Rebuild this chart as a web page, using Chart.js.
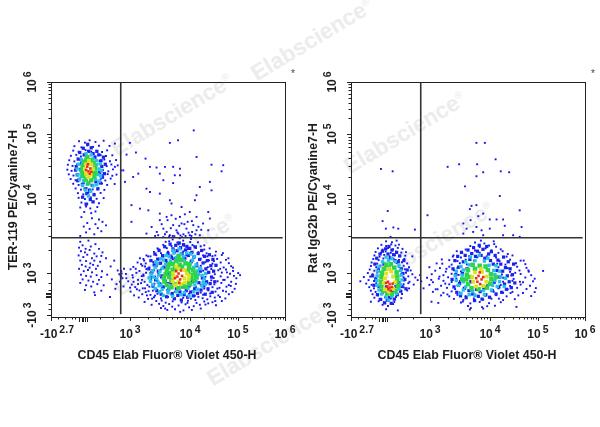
<!DOCTYPE html>
<html><head><meta charset="utf-8">
<style>
html,body{margin:0;padding:0;background:#fff;width:600px;height:427px;overflow:hidden}
canvas{position:absolute;top:0}
.wm{position:absolute;font:bold 22.5px "Liberation Sans",Arial,sans-serif;color:#ececec;white-space:nowrap;transform:translate(-50%,-50%) rotate(-31deg)}
.wm sup{font-size:10px;font-weight:normal}
</style>
<script src="https://cdn.jsdelivr.net/npm/chart.js@4"></script>
</head><body>
<div id="marks"></div>
<canvas id="cLeft" width="300" height="427" style="left:0;width:300px;height:427px"></canvas>
<canvas id="cRight" width="300" height="427" style="left:300px;width:300px;height:427px"></canvas>
<script>
// Events are in display channels (0-1000 along each biexponential axis), x,y pairs per density band.
const xTickChannels=[0,338,594,799,1000];
const xTickBases=['-10','10','10','10','10'];
const xTickExps=['2.7','3','4','5','6'];
const yTickChannels=[8,187,519,779,1000];
const yTickBases=['-10','10','10','10','10'];
const yTickExps=['3','3','4','5','6'];
const xNearZeroTicks=[31,60,88,102,121,131,138,145,152,209,266];
const yNearZeroTicks=[36,57,83,90,97,104,114,143];
const gateX=298, gateY=337;
const xTitle='CD45 Elab Fluor® Violet 450-H';
const leftTitle='TER-119 PE/Cyanine7-H';
const rightTitle='Rat IgG2b PE/Cyanine7-H';

const leftBlue=[
// CD45+ population
470,38,530,33,590,41,640,36,430,52,480,47,505,55,545,49,575,54,610,46,660,53,705,50,400,64,450,68,490,61,520,67,558,62,585,69,622,60,655,66,690,63,730,68,375,83,415,77,440,84,470,79,500,85,528,76,565,82,598,78,630,86,668,75,700,83,745,79,355,92,390,97,425,94,455,99,480,91,515,96,545,93,590,98,615,90,650,95,680,100,715,92,760,97,340,108,378,113,405,106,435,112,462,105,495,114,530,107,605,111,640,104,672,113,703,108,735,112,775,106,360,127,392,122,420,129,450,120,475,126,510,123,620,128,655,121,690,127,720,124,750,129,785,120,345,138,385,144,412,136,442,142,468,139,500,145,640,137,665,143,698,139,728,145,760,136,790,141,330,152,372,158,400,150,428,157,455,153,482,159,650,151,685,156,712,152,742,158,770,150,300,172,350,168,388,174,418,166,445,172,470,168,660,171,695,166,725,173,755,169,782,175,320,183,365,188,395,181,425,187,458,184,668,186,700,182,730,189,765,184,800,187,285,198,340,203,378,196,408,204,440,199,470,202,650,197,685,204,715,199,748,202,778,196,352,213,390,218,420,211,452,216,480,213,640,218,670,212,705,217,738,211,770,216,370,232,405,228,437,234,465,227,495,231,625,229,660,233,690,227,725,232,760,229,395,247,428,242,460,248,490,244,520,246,600,243,640,248,675,241,710,247,748,243,415,258,450,263,480,257,512,262,545,259,578,264,610,257,650,262,690,259,730,264,440,277,470,272,500,278,530,274,565,279,595,273,630,276,665,271,705,278,460,288,495,293,525,287,555,292,585,289,620,294,655,287,480,307,515,302,545,309,570,303,605,306,640,301,505,322,540,317,565,325,595,319,550,335,
395,175,402,122,408,262,385,225,372,140,362,205,348,178,338,125,322,165,312,205,292,182,410,92,398,240,432,78,462,56,488,36,518,44,566,28,602,30,636,52,672,58,702,68,722,85,748,108,768,132,792,165,808,178,778,210,758,250,735,272,702,262,678,292,655,305,628,318,598,332,575,345,520,330,490,320,455,292,425,258,402,215,380,250,367,118,353,150,406,188,389,158,417,110,444,91,473,70,497,30,552,22,583,60,617,72,648,80,681,88,711,121,736,158,752,190,723,205,696,238,668,258,642,282,612,300,
// TER-119+ population
120,748,145,742,165,752,190,745,225,750,100,727,130,722,155,730,180,724,205,729,250,728,95,708,118,703,148,710,172,704,195,707,218,702,240,709,85,686,108,690,128,683,150,688,188,682,212,689,235,685,262,688,78,667,100,662,122,669,208,664,228,670,252,663,278,668,72,648,92,643,112,650,215,646,238,642,258,649,285,645,70,627,88,622,108,630,222,625,245,620,265,628,300,624,76,607,96,602,115,609,220,604,242,608,262,601,280,606,84,587,105,582,125,590,212,586,232,581,255,589,95,567,118,562,140,569,195,563,218,568,240,562,272,566,105,547,128,542,152,549,178,543,202,548,228,541,115,527,138,522,160,529,185,524,212,528,118,507,145,502,170,509,195,503,225,506,130,487,155,482,178,489,205,484,125,466,150,470,168,462,198,468,142,447,172,442,190,449,130,425,175,420,205,415,155,400,190,395,220,405,140,385,165,375,200,378,235,390,150,360,185,352,215,365,125,345,
// CD45- double-low events
125,320,160,325,135,305,120,295,148,290,170,300,190,310,128,280,145,275,165,285,185,270,205,290,220,275,118,262,138,255,155,265,175,250,195,258,215,260,235,250,125,240,150,238,168,228,185,240,210,235,132,222,148,215,165,210,180,222,200,218,120,205,140,195,158,200,175,190,192,205,218,195,128,180,150,175,170,172,195,178,215,170,135,160,160,155,180,150,205,158,125,145,150,135,172,130,198,140,225,135,145,115,185,105,215,112,270,240,255,215,240,180,260,160,280,140,275,120,295,150,310,130,300,195,302,185,298,175,305,165,188,93,252,85,
// sparse upper right
610,794,543,752,508,741,337,741,363,700,404,674,622,681,323,691,686,648,736,646,729,620,423,639,451,636,487,639,522,639,551,631,373,610,351,596,465,610,529,603,551,603,316,575,408,546,480,582,522,570,636,553,679,575,686,539,423,532,465,525,508,497,515,483,615,497,622,518,344,476,380,461,416,454,465,440,494,426,558,468,593,447,672,447,679,419,622,426,551,426,515,433,465,412,344,405,430,383,480,376,522,391,558,398,608,391,650,398,672,369,494,362,536,369,579,376,408,355,622,369,458,348,508,348,544,355,593,348,636,348,520,345,560,340,600,345,480,340,540,360,570,395,273,639,273,738,309,624,
487,352,512,378,527,344,548,388,566,352,584,405,603,362,630,384,452,362,473,395,498,412,533,418,572,437,602,408,505,343,553,347,588,359,617,352,642,371,445,345];
const leftFill=[
418,205,424,168,427,240,431,190,436,131,441,222,444,268,447,158,452,112,456,246,459,195,462,283,465,141,468,229,471,97,474,175,477,261,480,128,483,212,486,299,489,152,491,240,494,86,497,186,500,271,503,118,506,226,509,310,512,145,515,255,518,100,521,290,524,170,527,78,530,248,533,305,536,120,539,282,542,92,545,262,548,315,551,107,554,295,557,72,560,270,563,128,566,308,569,95,572,250,575,285,578,112,581,300,584,84,587,262,590,132,593,292,596,106,599,235,602,275,605,150,608,90,611,255,614,120,617,298,620,178,623,218,626,101,629,270,632,146,635,245,638,195,641,115,644,283,647,166,650,230,653,132,656,258,659,97,662,205,665,150,668,240,671,120,674,190,677,265,680,142,683,218,686,170,689,105,692,245,695,195,700,150,705,220,
108,640,112,605,116,672,120,585,123,700,127,628,131,655,134,565,138,718,142,690,146,545,150,610,153,525,157,735,161,705,164,540,168,500,172,720,176,560,180,695,184,520,188,680,192,575,196,705,200,545,204,690,208,615,211,570,214,665,217,640,220,595,224,680,228,610,232,650,
105,625,114,580,135,510,180,490,150,480];
const leftCyan=[480,92,520,88,555,95,590,90,465,107,500,103,535,108,570,104,610,107,445,121,475,117,505,123,545,119,585,122,625,118,435,137,462,133,615,136,645,132,425,152,458,148,620,151,650,147,420,167,452,163,625,166,655,162,428,182,460,178,630,181,645,177,435,197,465,193,625,196,445,212,475,208,610,211,635,207,455,227,490,223,595,226,620,222,480,242,510,238,540,243,570,239,605,241,505,257,535,253,565,256,525,272,555,268,
150,695,172,690,130,670,150,675,180,672,195,665,118,650,135,655,195,648,210,652,112,630,128,625,205,630,215,622,115,605,130,600,200,606,212,600,122,585,140,580,190,586,205,578,135,560,155,565,180,558,195,563,148,540,170,535,160,515,
492,262,520,284,548,290,580,272,612,258,470,248,448,235,438,170,470,135,640,205,660,185,598,268,500,110,660,140];
const leftGreen=[515,127,545,123,575,129,495,136,530,139,565,134,595,140,485,151,515,155,590,150,612,155,482,167,505,170,600,165,620,171,490,182,512,186,600,180,615,187,495,197,520,201,585,196,607,201,500,212,530,208,560,214,590,209,520,226,550,222,575,228,535,238,555,243,505,225,590,225,545,258,
155,680,170,668,142,660,182,655,135,640,188,635,132,618,190,615,138,600,185,598,148,585,172,582,160,570,150,665,178,610];
const leftYellow=[530,135,555,140,520,152,545,150,572,147,588,160,525,170,570,165,580,185,522,186,545,205,572,200,535,215,590,175,
150,650,172,650,145,630,180,630,150,610,170,605,160,595,162,665];
const leftRed=[540,172,552,160,545,185,560,175,535,195,556,198,548,145,530,165,155,640,168,632,160,620,150,625,172,618,165,610,158,650];

const rightBlue=[
// CD45- population
150,322,175,318,195,325,130,307,150,302,172,309,190,304,205,308,115,292,135,287,158,293,180,288,200,294,220,290,105,277,128,272,148,279,170,273,192,278,215,274,235,276,100,262,122,257,142,264,165,258,188,263,210,259,232,261,262,258,95,247,118,242,138,249,160,244,182,248,205,243,228,247,88,232,112,227,132,234,195,229,218,233,240,228,85,217,108,212,126,219,205,214,225,218,248,212,80,202,100,197,118,204,210,199,230,203,255,198,72,187,92,182,112,189,215,184,235,188,262,182,55,170,82,172,105,167,225,169,245,173,275,168,40,152,75,157,98,153,228,155,250,150,285,157,65,142,88,137,108,144,225,139,245,144,268,138,78,127,98,122,225,126,248,122,85,112,105,107,125,114,215,109,240,113,92,97,115,92,135,99,195,94,218,98,100,82,122,77,145,84,170,79,192,85,215,80,118,67,140,62,162,69,185,64,135,52,158,47,180,55,150,33,200,28,85,65,
// CD45+ population
500,47,560,42,615,48,470,62,510,58,550,64,590,59,640,63,440,77,480,73,525,79,565,74,600,78,650,72,700,76,385,92,420,88,455,94,490,89,530,95,575,90,620,93,665,88,715,92,770,89,350,107,395,103,430,109,465,104,610,108,650,103,690,107,735,102,785,106,310,122,370,118,410,124,445,119,630,122,670,118,710,124,750,119,790,123,335,137,385,133,420,139,455,134,640,136,680,132,725,138,765,133,300,152,350,148,395,154,430,149,465,153,650,150,690,154,735,148,778,152,325,167,375,163,415,169,450,164,650,167,695,162,745,168,785,163,295,178,345,182,395,178,430,184,460,179,645,181,685,177,725,183,770,178,360,197,405,193,440,199,470,194,640,196,680,192,720,198,760,193,335,212,380,208,420,214,455,209,630,212,670,208,710,214,750,209,390,227,430,223,465,229,495,224,625,227,660,223,705,229,745,225,420,242,455,238,490,244,525,240,595,243,635,238,680,244,725,240,435,257,470,253,505,259,540,254,580,258,620,253,665,257,475,272,515,268,550,274,590,269,630,273,670,268,490,287,530,283,565,289,600,284,640,288,510,302,550,298,590,304,620,299,530,317,570,313,555,325,610,322,821,196,508,32,565,36,707,43,344,65,373,60,
403,142,378,172,362,118,412,96,438,262,408,205,366,228,343,158,388,245,452,280,478,66,512,38,582,46,632,78,682,102,722,150,758,198,702,188,738,240,690,262,648,280,612,310,575,292,
// isotype background above the gate
536,741,572,741,618,671,539,650,462,650,413,639,640,620,676,616,536,599,565,616,487,556,636,515,536,476,515,473,508,459,327,433,721,454,565,440,544,429,511,412,480,398,593,415,622,415,650,415,657,388,729,383,593,376,536,383,494,376,522,362,558,369,650,348,693,348,721,341,565,348,480,355,128,630,178,620,157,451,135,408,149,376,181,381,202,376,273,372,169,341];
const rightFill=[
92,175,98,135,102,225,106,160,110,250,113,95,117,200,120,130,124,268,127,75,131,178,134,280,137,110,141,225,144,60,148,290,151,128,155,72,158,268,162,300,165,82,168,250,172,58,175,285,178,105,182,265,185,76,188,240,192,130,195,275,198,95,202,235,205,145,208,260,212,110,215,205,218,130,222,185,226,240,230,160,235,120,240,200,
432,160,436,205,440,128,444,240,448,180,452,105,456,258,460,212,464,142,468,90,472,275,476,185,480,235,484,122,488,262,492,82,496,205,500,285,504,112,508,245,512,150,516,270,520,98,524,295,528,70,532,258,536,118,540,280,544,88,548,305,552,108,556,262,560,76,564,288,568,120,572,250,576,95,580,300,584,132,588,268,592,84,596,240,600,278,604,112,608,225,612,148,616,262,620,98,624,198,628,242,632,128,636,170,640,225,644,105,648,195,652,255,656,140,660,210,664,118,668,175,672,235,676,150,680,205,685,125,690,180,695,225,700,145];
const rightCyan=[150,255,175,248,135,235,160,240,190,236,120,215,205,218,115,195,212,198,112,175,215,178,110,155,218,158,112,135,212,138,120,115,205,118,130,98,195,100,150,85,175,88,160,72,
490,235,530,240,570,238,470,215,505,222,590,220,620,218,450,195,480,200,610,198,635,195,445,175,475,178,615,180,640,172,450,155,480,150,615,155,635,150,460,135,490,128,605,135,625,130,480,115,520,108,565,112,600,115,530,92,570,95,505,95,510,255,548,262,585,250,660,165,655,130,470,100];
const rightGreen=[150,222,170,225,140,205,160,208,185,210,132,188,195,190,130,170,198,172,128,150,198,152,130,130,200,132,138,112,190,112,155,100,175,98,
520,222,550,218,575,215,500,200,530,205,585,200,495,180,598,182,492,160,600,162,500,140,595,142,515,122,545,118,580,125,510,170,475,160,620,170];
const rightYellow=[150,185,172,195,145,165,180,172,140,145,188,148,145,118,180,120,162,108,160,205,
530,190,560,192,518,170,580,172,522,150,578,150,535,130,565,132,555,205];
const rightRed=[165,140,155,130,175,128,160,118,170,112,150,145,178,142,165,125,158,150,545,175,558,160,540,150,552,140,565,170,535,165,550,190];

const bandStyles=[
 {color:'#ee2a10',radius:1.8},
 {color:'#dfe31e',radius:2.7},
 {color:'#2fd34e',radius:3.2},
 {color:'#27c0ea',radius:2.4},
 {color:'#1a22ee',radius:2.3},
 {color:'#1414f0',radius:1.35}
];
const watermarkSpots=[[312,40],[172,115],[175,255],[268,345],[405,133],[433,243]];
const watermarkText='Elabscience';

function pairs(flat){
  const out=[];
  for(let i=0;i<flat.length;i+=2) out.push({x:flat[i],y:flat[i+1]});
  return out;
}

// Adds the eight log subdivisions between consecutive decade ticks.
function minorChannels(majors){
  const out=[];
  for(let i=0;i+1<majors.length;i++){
    for(let k=2;k<10;k++) out.push(majors[i]+(majors[i+1]-majors[i])*Math.log10(k));
  }
  return out;
}

const axesPlugin={
  id:'axesPlugin',
  afterDraw(chart,args,opts){
    const {ctx,chartArea:a,scales:{x,y}}=chart;
    ctx.save();
    ctx.strokeStyle='#222';
    ctx.lineWidth=1;
    ctx.strokeRect(a.left+.5,a.top+.5,a.right-a.left,a.bottom-a.top);
    // tick marks, long on decades
    const tickX=(v,len)=>{const p=Math.round(x.getPixelForValue(v))+.5;ctx.beginPath();ctx.moveTo(p,a.bottom);ctx.lineTo(p,a.bottom+len);ctx.stroke();};
    const tickY=(v,len)=>{const p=Math.round(y.getPixelForValue(v))+.5;ctx.beginPath();ctx.moveTo(a.left,p);ctx.lineTo(a.left-len,p);ctx.stroke();};
    minorChannels(xTickChannels.slice(1)).forEach(v=>tickX(v,2.5));
    minorChannels(yTickChannels.slice(1)).forEach(v=>tickY(v,2.5));
    xNearZeroTicks.forEach(v=>tickX(v,v>=121&&v<=152?5:2.5));
    yNearZeroTicks.forEach(v=>tickY(v,v>=83&&v<=104?5:2.5));
    xTickChannels.forEach(v=>tickX(v,4));
    yTickChannels.forEach(v=>tickY(v,4));

    ctx.fillStyle='#1c1c1c';
    ctx.textBaseline='alphabetic';
    ctx.textAlign='left';
    const base='bold 12px "Liberation Sans",Arial,sans-serif';
    const sup='bold 10.5px "Liberation Sans",Arial,sans-serif';
    // decade labels along x, exponent raised beside the base
    xTickChannels.forEach((v,i)=>{
      ctx.font=base;const bw=ctx.measureText(xTickBases[i]).width;
      ctx.font=sup;const ew=ctx.measureText(xTickExps[i]).width;
      const off=i===0?6:0;
      const sx=x.getPixelForValue(v)+off-(bw+2+ew)/2;
      ctx.font=base;ctx.fillText(xTickBases[i],sx,338);
      ctx.font=sup;ctx.fillText(xTickExps[i],sx+bw+2,333);
    });
    // the same along y, rotated
    yTickChannels.forEach((v,i)=>{
      ctx.font=base;const bw=ctx.measureText(yTickBases[i]).width;
      ctx.font=sup;const ew=ctx.measureText(yTickExps[i]).width;
      const sy=y.getPixelForValue(v);
      ctx.save();
      ctx.translate(36,sy);
      ctx.rotate(-Math.PI/2);
      const s=-(bw+2+ew)/2;
      ctx.font=base;ctx.fillText(yTickBases[i],s,0);
      ctx.font=sup;ctx.fillText(yTickExps[i],s+bw+2,-5);
      ctx.restore();
    });
    ctx.font='bold 12.4px "Liberation Sans",Arial,sans-serif';
    ctx.textAlign='center';
    ctx.fillText(xTitle,167,359);
    ctx.save();
    ctx.translate(17,opts.titleCenter);
    ctx.rotate(-Math.PI/2);
    ctx.fillText(opts.yTitle,0,0);
    ctx.restore();
    ctx.fillStyle='#444';
    ctx.font='10px "Liberation Sans",Arial,sans-serif';
    ctx.fillText('*',293,77);
    ctx.restore();
  }
};

function panel(id,bands,yTitleText,titleCenter){
  const datasets=bands.map((flat,i)=>({
    type:'scatter',
    data:pairs(flat),
    pointStyle:'rect',
    pointRadius:bandStyles[i].radius,
    pointBackgroundColor:bandStyles[i].color,
    pointBorderWidth:0,
    order:i+2
  }));
  // Quadrant gate lines sit above the events.
  datasets.push({type:'line',data:[{x:gateX,y:12},{x:gateX,y:1000}],borderColor:'#333',borderWidth:1.6,pointRadius:0,order:0,parsing:false});
  datasets.push({type:'line',data:[{x:0,y:gateY},{x:990,y:gateY}],borderColor:'#333',borderWidth:1.6,pointRadius:0,order:1,parsing:false});
  return new Chart(document.getElementById(id),{
    data:{datasets},
    options:{
      responsive:false,
      animation:false,
      events:[],
      layout:{padding:{left:51,right:15,top:82,bottom:110}},
      plugins:{legend:{display:false},tooltip:{enabled:false},axesPlugin:{yTitle:yTitleText,titleCenter}},
      scales:{
        x:{type:'linear',min:0,max:1000,display:true,
           grid:{display:false},border:{display:false},ticks:{display:false},
           afterBuildTicks:s=>{s.ticks=xTickChannels.map(v=>({value:v}));},
           afterFit:s=>{s.height=0;}},
        y:{type:'linear',min:0,max:1000,display:true,
           grid:{display:false},border:{display:false},ticks:{display:false},
           afterBuildTicks:s=>{s.ticks=yTickChannels.map(v=>({value:v}));},
           afterFit:s=>{s.width=0;}}
      }
    },
    plugins:[axesPlugin]
  });
}

const marks=document.getElementById('marks');
watermarkSpots.forEach(([cx,cy])=>{
  const d=document.createElement('div');
  d.className='wm';
  d.style.left=cx+'px';d.style.top=cy+'px';
  d.innerHTML=watermarkText+'<sup>®</sup>';
  marks.appendChild(d);
});

panel('cLeft',[leftRed,leftYellow,leftGreen,leftCyan,leftFill,leftBlue],leftTitle,200);
panel('cRight',[rightRed,rightYellow,rightGreen,rightCyan,rightFill,rightBlue],rightTitle,198);
</script>
</body></html>
